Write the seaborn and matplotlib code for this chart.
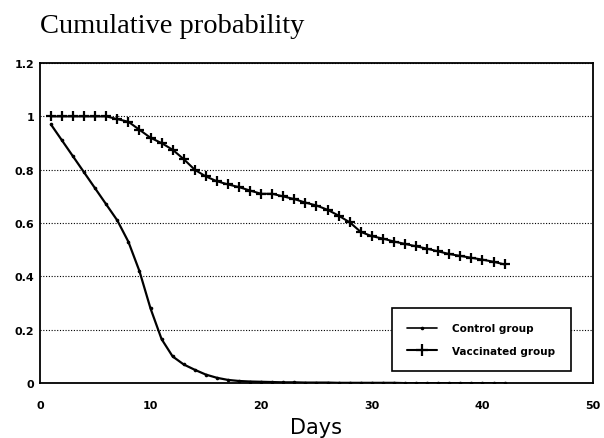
import numpy as np
import pandas as pd
import matplotlib
matplotlib.use("Agg")
import matplotlib.pyplot as plt
import seaborn as sns
from matplotlib.lines import Line2D

# ---- data ----
days = list(range(1, 43))
control = [0.97, 0.91, 0.85, 0.79, 0.73, 0.67, 0.61, 0.53, 0.42, 0.28,
           0.165, 0.10, 0.07, 0.05, 0.032, 0.02, 0.012, 0.008, 0.006, 0.005,
           0.004, 0.003, 0.003, 0.002, 0.002, 0.002, 0.001, 0.001, 0.001, 0.001,
           0.001, 0.001, 0.0, 0.0, 0.0, 0.0, 0.0, 0.0, 0.0, 0.0, 0.0, 0.0]
vaccinated = [1.0, 1.0, 1.0, 1.0, 1.0, 1.0, 0.99, 0.98, 0.95, 0.92,
              0.90, 0.875, 0.84, 0.80, 0.775, 0.757, 0.745, 0.735, 0.722, 0.71,
              0.71, 0.70, 0.69, 0.677, 0.666, 0.65, 0.628, 0.603, 0.567, 0.551,
              0.542, 0.531, 0.522, 0.513, 0.504, 0.494, 0.484, 0.477, 0.47, 0.463,
              0.455, 0.445]
groups = ["Control group", "Vaccinated group"]
x_ticks = [0, 10, 20, 30, 40, 50]
y_ticks = [0, 0.2, 0.4, 0.6, 0.8, 1.0, 1.2]
y_tick_labels = ["0", "0.2", "0.4", "0.6", "0.8", "1", "1.2"]

df_c = pd.DataFrame({"Days": days, "prob": control})
df_v = pd.DataFrame({"Days": days, "prob": vaccinated})

sns.set_style("white")
plt.rcParams["font.family"] = ["DejaVu Sans"]
plt.rcParams["text.color"] = "black"
plt.rcParams["axes.labelcolor"] = "black"

fig = plt.figure(figsize=(6.04, 4.39), dpi=100)
ax = fig.add_axes([0.066, 0.125, 0.916, 0.729])

ax.yaxis.grid(True, linestyle=(0, (1, 1.5)), color="black", linewidth=0.8)
ax.set_axisbelow(True)

sns.lineplot(data=df_c, x="Days", y="prob", color="black", marker="o",
             markersize=2.6, markeredgewidth=0, markeredgecolor="black",
             linewidth=1.6, ax=ax)
sns.lineplot(data=df_v, x="Days", y="prob", color="black", marker="+",
             markersize=7.5, markeredgewidth=1.6, markeredgecolor="black",
             linewidth=1.5, ax=ax)

ax.set_xlim(0, 50)
ax.set_ylim(0, 1.2)
ax.set_xticks(x_ticks)
ax.set_yticks(y_ticks)
ax.set_yticklabels(y_tick_labels)
for lab in ax.get_xticklabels() + ax.get_yticklabels():
    lab.set_fontweight("bold")
    lab.set_fontsize(8)
ax.tick_params(axis="both", direction="in", length=4, width=1, colors="black")
ax.tick_params(axis="x", pad=12)
ax.tick_params(axis="y", pad=4)

for s in ax.spines.values():
    s.set_visible(True)
    s.set_color("black")
    s.set_linewidth(1.3)

ax.set_xlabel("Days", fontsize=15, labelpad=5, color="black")
ax.set_ylabel("")

fig.text(0.066, 0.925, "Cumulative probability", family="Liberation Serif",
         fontsize=20.5, ha="left", va="baseline", color="black")

handles = [
    Line2D([], [], color="black", marker="o", markersize=2.6, markeredgewidth=0, linewidth=1.2),
    Line2D([], [], color="black", marker="+", markersize=8, markeredgewidth=1.6, linewidth=1.5),
]
leg = ax.legend(handles, groups, loc="lower right", bbox_to_anchor=(0.96, 0.037),
                prop={"weight": "bold", "size": 7.5}, frameon=True, fancybox=False,
                edgecolor="black", handlelength=2.8, borderpad=1.5, labelspacing=1.2,
                handletextpad=1.5, borderaxespad=0)
leg.get_frame().set_linewidth(1.2)
leg.get_frame().set_alpha(1)

fig.savefig("out.png", dpi=100)
